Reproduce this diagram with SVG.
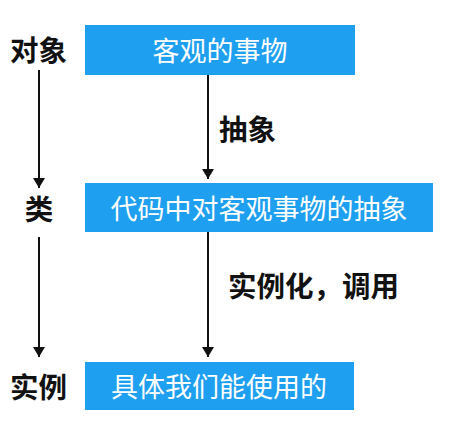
<svg xmlns="http://www.w3.org/2000/svg" width="462" height="426" viewBox="0 0 462 426">
<defs>
<marker id="ah" viewBox="0 0 10 12" refX="10" refY="6" markerWidth="10" markerHeight="12" markerUnits="userSpaceOnUse" orient="auto">
<path d="M0,0 L10,6 L0,12 Z" fill="#111"/>
</marker>
<style>
.box{fill:#1E9FEF;}
.bt{font-family:"Noto Sans CJK SC","Noto Sans",sans-serif;font-size:27px;fill:#fff;text-anchor:middle;}
.lb{font-family:"Noto Sans CJK SC","Noto Sans",sans-serif;font-size:28.5px;font-weight:bold;fill:#111;}
.cn{stroke:#111;stroke-width:2;fill:none;marker-end:url(#ah);}
</style>
</defs>
<rect width="462" height="426" fill="#fff"/>
<g id="connectors">
<line class="cn" x1="39" y1="70" x2="39" y2="188"/>
<line class="cn" x1="208" y1="75" x2="208" y2="179"/>
<line class="cn" x1="39" y1="237" x2="39" y2="357"/>
<line class="cn" x1="208" y1="232" x2="208" y2="357"/>
</g>
<g id="label-object"><text class="lb" x="10" y="61">对象</text></g>
<g id="label-class"><text class="lb" x="39" y="220" text-anchor="middle">类</text></g>
<g id="label-instance"><text class="lb" x="10" y="398">实例</text></g>
<g id="label-abstract"><text class="lb" x="219" y="140">抽象</text></g>
<g id="label-instantiate"><text class="lb" x="228" y="297">实例化，调用</text></g>
<g id="node-objective"><rect class="box" x="85" y="25" width="270" height="50"/><text class="bt" x="220" y="61">客观的事物</text></g>
<g id="node-code"><rect class="box" x="85" y="183" width="348" height="49"/><text class="bt" x="259" y="219">代码中对客观事物的抽象</text></g>
<g id="node-usable"><rect class="box" x="85" y="362" width="269" height="48"/><text class="bt" x="219" y="397">具体我们能使用的</text></g>
</svg>
